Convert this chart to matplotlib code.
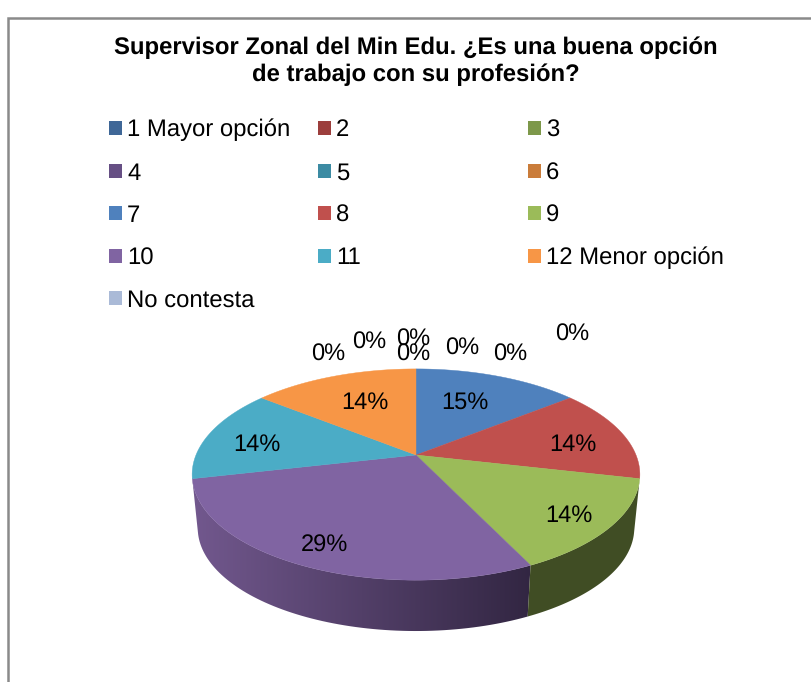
import numpy as np
import matplotlib
matplotlib.use("Agg")
import matplotlib.pyplot as plt
from matplotlib.patches import Polygon, Rectangle
from matplotlib.colors import to_rgb

title = "Supervisor Zonal del Min Edu. ¿Es una buena opción\nde trabajo con su profesión?"
categories = ["1 Mayor opción", "2", "3", "4", "5", "6", "7", "8", "9", "10", "11",
              "12 Menor opción", "No contesta"]
counts = [0, 0, 0, 0, 0, 0, 1, 1, 1, 2, 1, 1, 0]
pct_labels = ["0%", "0%", "0%", "0%", "0%", "0%", "15%", "14%", "14%", "29%", "14%", "14%", "0%"]
colors = ["#3F6797", "#9C3E3C", "#7D984A", "#664F84", "#3C8BA3", "#CA7C3A",
          "#4F81BD", "#C0504D", "#9BBB59", "#8064A2", "#4BACC6", "#F79646", "#AABAD7"]

# digit centres of the labels, same order as categories
label_pos = [(572, 332), (510, 352), (462, 346), (413, 337), (413, 352), (369, 340),
             (465, 400), (573, 442), (569, 513), (324, 543), (257, 442), (365, 400), (328, 352)]

# pie geometry in pixels, simple perspective on the disc
cx, cy = 416, 455
R, H, k = 220, 102, 0.185
bottom_cy, bottom_scale = 509, 0.975


def top_xy(t):
    u, v = np.sin(t), np.cos(t)
    d = 1 + k * v
    return R * u / d, -H * v / d


plt.rcParams["font.family"] = "Liberation Sans"
plt.rcParams["text.hinting"] = "none"
fig = plt.figure(figsize=(8.12, 6.82), dpi=100)
ax = fig.add_axes([0, 0, 1, 1])

# chart border, left and top only show in the crop
ax.plot([8, 8, 812], [682, 18, 18], color="#8A8A8A", lw=1.8, solid_joinstyle="miter")

ax.text(416, 61.5, title, ha="center", va="center", fontsize=17.2, fontweight="bold",
        linespacing=1.24)

# legend
col_x = [109, 318, 528]
row_y = [128, 171, 213, 256, 298]
for i, name in enumerate(categories):
    x = col_x[i % 3]
    y = row_y[i // 3]
    ax.add_patch(Rectangle((x, y - 7), 13, 14, facecolor=colors[i], edgecolor="none"))
    ax.text(x + 18, y + 8.5, name, ha="left", va="baseline", fontsize=17.2)

# slices clockwise from 12 o'clock
total = sum(counts)
edges = np.concatenate([[0], np.cumsum(counts)]) / total * 2 * np.pi

# sides first, the top of the disc hides whatever faces backwards
for i, c in enumerate(counts):
    if c == 0 or np.cos((edges[i] + edges[i + 1]) / 2) > 0:
        continue
    ts = np.linspace(edges[i], edges[i + 1], 80)
    xs, ys = top_xy(ts)
    pts = list(zip(cx + xs, cy + ys))
    pts += list(zip(cx + xs[::-1] * bottom_scale, bottom_cy + ys[::-1] * bottom_scale))
    side = Polygon(pts, closed=True, facecolor="none", edgecolor="none", transform=ax.transData)
    ax.add_patch(side)
    if colors[i] == "#8064A2":
        # purple side fades left to right
        grad = np.linspace(np.array([114, 88, 142]) / 255, np.array([50, 38, 66]) / 255, 256)
        im = ax.imshow(grad[np.newaxis, :, :], extent=(192, 532, 640, 470), aspect="auto",
                       interpolation="bilinear")
        im.set_clip_path(side)
    else:
        side.set_facecolor(tuple(v * 0.41 for v in to_rgb(colors[i])))

# top of the disc
for i, c in enumerate(counts):
    if c == 0:
        continue
    ts = np.linspace(edges[i], edges[i + 1], 80)
    xs, ys = top_xy(ts)
    pts = [(cx, cy)] + list(zip(cx + xs, cy + ys))
    ax.add_patch(Polygon(pts, closed=True, facecolor=colors[i], edgecolor=colors[i], lw=0.3,
                         zorder=3))

for lab, (x, y) in zip(pct_labels, label_pos):
    ax.text(x, y + 8.5, lab, ha="center", va="baseline", fontsize=17, zorder=4)

ax.set_xlim(0, 812)
ax.set_ylim(682, 0)
ax.axis("off")

fig.savefig("out.png", dpi=100)
